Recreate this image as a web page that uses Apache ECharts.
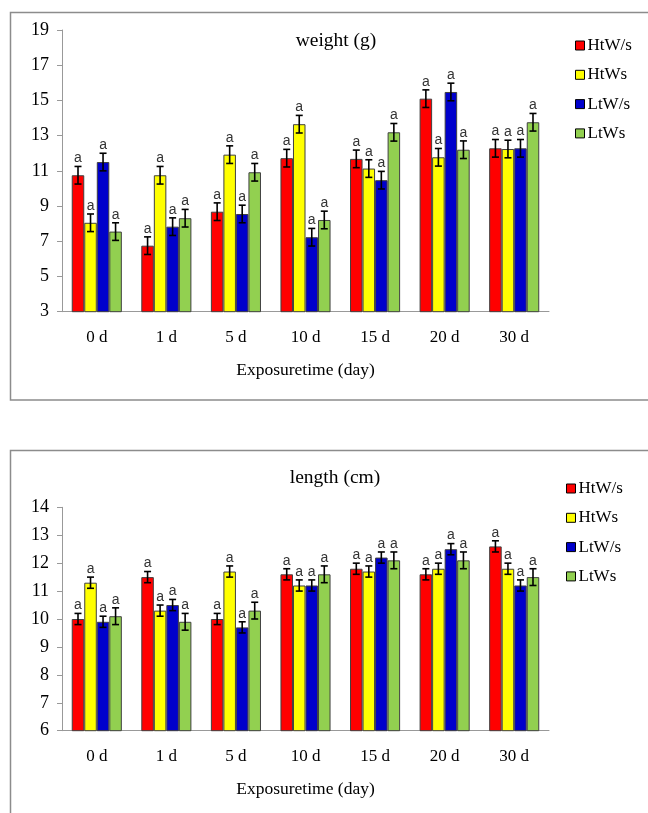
<!DOCTYPE html>
<html>
<head>
<meta charset="utf-8">
<script src="https://cdn.jsdelivr.net/npm/echarts@6/dist/echarts.min.js"></script>
<style>html,body{margin:0;padding:0;background:#fff;}#c{width:648px;height:813px;}</style>
</head>
<body>
<div id="c"></div>
<script>
const categories = ['0 d', '1 d', '5 d', '10 d', '15 d', '20 d', '30 d'];
const seriesNames = ['HtW/s', 'HtWs', 'LtW/s', 'LtWs'];
const colors = ['#FF0000', '#FFFF00', '#0000CC', '#92D050'];

// weight (g)
const weightHtWslash = [10.75, 6.75, 8.68, 11.72, 11.68, 15.1, 12.28];
const weightHtWs     = [8.05, 10.75, 11.92, 13.65, 11.13, 11.77, 12.24];
const weightLtWslash = [11.5, 7.83, 8.55, 7.23, 10.47, 15.48, 12.28];
const weightLtWs     = [7.55, 8.31, 10.92, 8.21, 13.19, 12.2, 13.76];
const weightErr = [
  [0.5, 0.5, 0.5, 0.5, 0.5, 0.5, 0.5],
  [0.5, 0.5, 0.5, 0.5, 0.5, 0.5, 0.5],
  [0.5, 0.5, 0.5, 0.5, 0.5, 0.5, 0.5],
  [0.5, 0.5, 0.5, 0.5, 0.5, 0.5, 0.5]
];

// length (cm)
const lengthHtWslash = [10.0, 11.5, 10.0, 11.6, 11.8, 11.6, 12.6];
const lengthHtWs     = [11.3, 10.3, 11.7, 11.2, 11.7, 11.8, 11.8];
const lengthLtWslash = [9.9, 10.5, 9.7, 11.2, 12.2, 12.5, 11.2];
const lengthLtWs     = [10.1, 9.9, 10.3, 11.6, 12.1, 12.1, 11.5];
const lengthErr = [
  [0.2, 0.2, 0.2, 0.2, 0.2, 0.2, 0.2],
  [0.2, 0.2, 0.2, 0.2, 0.2, 0.2, 0.2],
  [0.2, 0.2, 0.2, 0.2, 0.2, 0.2, 0.2],
  [0.3, 0.3, 0.3, 0.3, 0.3, 0.3, 0.3]
];
const sigLabel = 'a';

const weightTicks = { min: 3, max: 19, interval: 2 };
const lengthTicks = { min: 6, max: 14, interval: 1 };

const weightVals = [weightHtWslash, weightHtWs, weightLtWslash, weightLtWs];
const lengthVals = [lengthHtWslash, lengthHtWs, lengthLtWslash, lengthLtWs];

const SERIF = 'Liberation Serif';
const CAT_GAP = 0.28;

function makeBars(vals, gi) {
  return vals.map((v, k) => ({
    name: seriesNames[k], type: 'bar', xAxisIndex: gi, yAxisIndex: gi,
    data: v, barGap: '0%', barCategoryGap: (CAT_GAP * 100) + '%',
    itemStyle: { color: colors[k], borderColor: '#404040', borderWidth: 1 },
    emphasis: { disabled: true }, animation: false
  }));
}
function makeErr(vals, errs, gi) {
  return vals.map((v, k) => ({
    name: 'err' + gi + '_' + k, type: 'custom', xAxisIndex: gi, yAxisIndex: gi,
    data: v.map((y, i) => [i, y, errs[k][i]]),
    encode: { x: 0, y: 1 }, z: 10, animation: false, silent: true,
    renderItem: function (params, api) {
      const i = api.value(0), y = api.value(1), e = api.value(2);
      const c = api.coord([i, y]);
      const band = api.size([1, 0])[0];
      const bw = band * (1 - CAT_GAP) / 4;
      const x = c[0] + (k - 1.5) * bw;
      const top = api.coord([i, y + e])[1];
      const bot = api.coord([i, y - e])[1];
      const cap = 3.5;
      const ls = { stroke: '#000', lineWidth: 1.6 };
      return {
        type: 'group', children: [
          { type: 'line', shape: { x1: x, y1: top, x2: x, y2: bot }, style: ls },
          { type: 'line', shape: { x1: x - cap, y1: top, x2: x + cap, y2: top }, style: ls },
          { type: 'line', shape: { x1: x - cap, y1: bot, x2: x + cap, y2: bot }, style: ls },
          { type: 'text', x: x, y: top - 1, style: { text: sigLabel, fill: '#333', font: '14px "Liberation Sans"', align: 'center', verticalAlign: 'bottom' } }
        ]
      };
    }
  }));
}

const axisLineStyle = { color: '#999', width: 1 };
function xAx(gi) {
  return {
    type: 'category', gridIndex: gi, data: categories,
    axisLine: { lineStyle: axisLineStyle }, axisTick: { length: 5, lineStyle: axisLineStyle },
    axisLabel: { fontFamily: SERIF, fontSize: 17, color: '#000', margin: 17 },
    name: 'Exposuretime (day)', nameLocation: 'middle', nameGap: 50,
    nameTextStyle: { fontFamily: SERIF, fontSize: 17.5, color: '#000' }
  };
}
function yAx(gi, t) {
  return {
    type: 'value', gridIndex: gi, min: t.min, max: t.max, interval: t.interval,
    axisLine: { show: true, lineStyle: axisLineStyle },
    axisTick: { show: true, length: 5, lineStyle: axisLineStyle },
    splitLine: { show: false },
    axisLabel: { fontFamily: SERIF, fontSize: 18, color: '#000', margin: 13 }
  };
}
const legendCommon = {
  orient: 'vertical', data: seriesNames, icon: 'rect', itemWidth: 9, itemHeight: 9,
  itemGap: 12.3, selectedMode: false,
  itemStyle: { borderColor: '#000', borderWidth: 1 },
  textStyle: { fontFamily: SERIF, fontSize: 17, color: '#000', lineHeight: 17, padding: [0, 0, 0, -2] }
};

const chart = echarts.init(document.getElementById('c'), null, { renderer: 'canvas' });
chart.setOption({
  animation: false,
  backgroundColor: '#fff',
  graphic: [
    { type: 'rect', shape: { x: 10.5, y: 12.5, width: 660, height: 387.5 }, style: { fill: 'none', stroke: '#8c8c8c', lineWidth: 1.5 }, silent: true },
    { type: 'rect', shape: { x: 10.5, y: 450.5, width: 660, height: 420 }, style: { fill: 'none', stroke: '#8c8c8c', lineWidth: 1.5 }, silent: true }
  ],
  title: [
    { text: 'weight (g)', left: 331, top: 26, textAlign: 'center', textStyle: { fontFamily: SERIF, fontSize: 19.5, fontWeight: 'normal', color: '#000' } },
    { text: 'length (cm)', left: 330, top: 463, textAlign: 'center', textStyle: { fontFamily: SERIF, fontSize: 19.5, fontWeight: 'normal', color: '#000' } }
  ],
  legend: [
    Object.assign({}, legendCommon, { left: 570, top: 32 }),
    Object.assign({}, legendCommon, { left: 561, top: 475 })
  ],
  grid: [
    { left: 62, right: 99, top: 30, height: 281.7 },
    { left: 62, right: 99, top: 507.3, height: 223.4 }
  ],
  xAxis: [xAx(0), xAx(1)],
  yAxis: [yAx(0, weightTicks), yAx(1, lengthTicks)],
  series: [].concat(
    makeBars(weightVals, 0), makeBars(lengthVals, 1),
    makeErr(weightVals, weightErr, 0), makeErr(lengthVals, lengthErr, 1)
  )
});
</script>
</body>
</html>
